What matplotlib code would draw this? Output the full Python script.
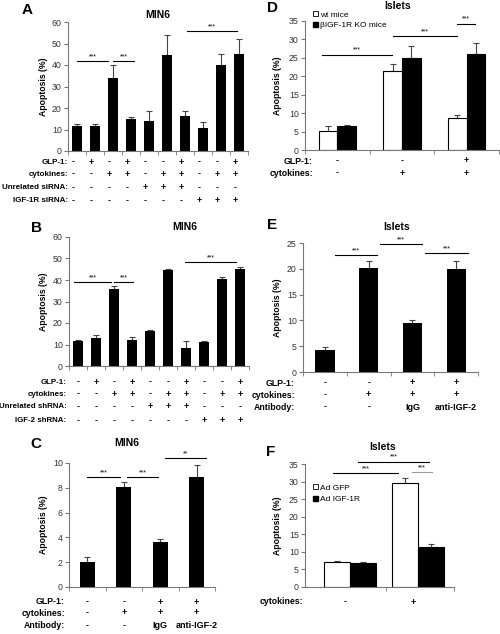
import numpy as np
import matplotlib
matplotlib.use('Agg')
import matplotlib.pyplot as plt
from matplotlib.patches import Patch
from matplotlib.transforms import blended_transform_factory

plt.rcParams['font.family'] = ['Liberation Sans', 'DejaVu Sans']

W, H = 500, 634

# ---- data ----
a_vals = [11.5, 11.5, 34.1, 14.7, 14.0, 44.5, 16.3, 10.7, 39.8, 45.0]
a_err = [1.2, 1.2, 5.7, 0.9, 4.5, 9.4, 2.5, 2.8, 5.2, 7.0]
a_rows = ['GLP-1:', 'cytokines:', 'Unrelated siRNA:', 'IGF-1R siRNA:']
a_signs = [list('-+-+--+--+'), list('--++-++-++'), list('----+++---'), list('-------+++')]
a_sig = [(0, 1.74, 42, '***'), (2.0, 3.17, 42, '***'), (6.12, 8.9, 56, '***')]

b_vals = [11.4, 13.2, 35.9, 12.1, 16.3, 44.8, 8.2, 11.3, 40.6, 45.3]
b_err = [0.6, 1.2, 1.4, 1.6, 0.4, 0.3, 3.4, 0.3, 0.9, 0.6]
b_rows = ['GLP-1:', 'cytokines:', 'Unrelated shRNA:', 'IGF-2 shRNA:']
b_signs = a_signs
b_sig = [(-0.2, 1.85, 38.9, '***'), (2.0, 3.07, 38.9, '***'), (5.95, 8.8, 48.4, '***')]

c_vals = [2.0, 8.1, 3.65, 8.86]
c_err = [0.45, 0.4, 0.25, 1.0]
c_rows = ['GLP-1:', 'cytokines:', 'Antibody:']
c_signs = [['-', '-', '+', '+'], ['-', '+', '+', '+'], ['-', '-', 'IgG', 'anti-IGF-2']]
c_sig = [(0, 0.9, 8.9, '***'), (1.1, 1.95, 8.9, '***'), (2.13, 3.26, 10.4, '**')]

d_wt = [5.2, 21.3, 8.7]
d_wt_err = [1.4, 2.0, 0.7]
d_ko = [6.6, 25.0, 26.1]
d_ko_err = [0.3, 3.3, 2.9]
d_rows = ['GLP-1:', 'cytokines:']
d_signs = [['-', '-', '+'], ['-', '+', '+']]
d_sig = [(-0.24, 0.84, 25.9, '***'), (0.86, 1.85, 31.0, '***'), (1.85, 2.13, 34.3, '***')]

e_vals = [4.2, 20.2, 9.45, 20.0]
e_err = [0.7, 1.3, 0.65, 1.5]
e_rows = c_rows
e_signs = c_signs
e_sig = [(0.22, 1.18, 22.6, '***'), (1.25, 2.23, 24.8, '***'), (2.28, 3.28, 23.0, '***')]

f_gfp = [7.2, 29.5]
f_gfp_err = [0.3, 1.4]
f_igf = [6.95, 11.4]
f_igf_err = [0.2, 0.9]
f_rows = ['cytokines:']
f_signs = [['-', '+']]
f_sig = [(-0.25, 0.71, 32.4, '***'), (0.12, 1.16, 35.7, '***'), (0.92, 1.2, 32.6, '***')]

AX_COL = '#777777'

fig = plt.figure(figsize=(W / 100, H / 100), dpi=100)


def fx(px):
    return px / W


def fy(py):
    return 1 - py / H


def make_axes(x0, y0, x1, y1, xlim, ymax, ystep, bounds, ylab_x):
    ax = fig.add_axes([fx(x0), fy(y1), fx(x1 - x0), (y1 - y0) / H])
    ax.set_xlim(*xlim)
    ax.set_ylim(0, ymax)
    ax.set_yticks(np.arange(0, ymax + 0.01, ystep))
    for s in ['top', 'right']:
        ax.spines[s].set_visible(False)
    for s in ['left', 'bottom']:
        ax.spines[s].set_color(AX_COL)
        ax.spines[s].set_linewidth(0.8)
    ax.set_xticks([])
    ax.set_xticks(bounds, minor=True)
    ax.tick_params(axis='x', which='minor', direction='out', length=3, color=AX_COL, labelbottom=False)
    ax.tick_params(axis='y', direction='out', length=3, color=AX_COL, labelsize=6.3, labelcolor='#333333', pad=1.5)
    ax.set_ylabel('Apoptosis (%)', fontsize=6.2, fontweight='bold')
    ax.yaxis.set_label_coords((ylab_x - x0) / (x1 - x0), 0.5)
    return ax


def errs(ax, x, v, e):
    ax.errorbar(x, v, yerr=[np.zeros(len(e)), e], fmt='none', ecolor='#444444',
                elinewidth=0.8, capsize=2, capthick=0.8, zorder=1)


def sig_lines(ax, sig, gray_last=False):
    for i, (x0, x1, y, lab) in enumerate(sig):
        col = '#999999' if gray_last and i == len(sig) - 1 else 'black'
        ax.plot([x0, x1], [y, y], color=col, lw=0.8, clip_on=False)
        ax.annotate(lab, ((x0 + x1) / 2, y), xytext=(0, 0.5), textcoords='offset points',
                    ha='center', va='bottom', fontsize=5, annotation_clip=False)


def table(ax, rows, signs, ys, label_x, xs, size=6.3):
    tr = blended_transform_factory(ax.transData, fig.transFigure)
    for name, row, y in zip(rows, signs, ys):
        fig.text(fx(label_x), fy(y), name, ha='right', va='center', fontsize=size, fontweight='bold')
        for x, s in zip(xs, row):
            ax.text(x, fy(y), s, transform=tr, ha='center', va='center', fontsize=6.5, fontweight='bold')


def heading(letter, lx, ly, title, tx, ty):
    fig.text(fx(lx), fy(ly), letter, ha='center', va='center', fontsize=11, fontweight='bold')
    fig.text(fx(tx), fy(ty), title, ha='center', va='center', fontsize=7.5, fontweight='bold')


def legend(labels, x, y, spacing):
    handles = [Patch(facecolor='white', edgecolor='black', lw=0.6), Patch(facecolor='black', edgecolor='black')]
    fig.legend(handles, labels, loc='upper left', bbox_to_anchor=(fx(x), fy(y)),
               frameon=False, fontsize=6, handlelength=0.6, handleheight=0.6, handletextpad=0.3,
               labelspacing=spacing, borderpad=0, borderaxespad=0)


# ---- A ----
x10 = np.arange(10)
axA = make_axes(68, 22, 248, 151, (-0.5, 9.5), 60, 10, np.arange(-0.5, 10), 48)
axA.bar(x10, a_vals, width=0.58, color='black', zorder=2)
errs(axA, x10, a_vals, a_err)
sig_lines(axA, a_sig)
table(axA, a_rows, a_signs, [162, 174, 188, 201], 68, x10 - 0.2, size=5.8)
heading('A', 27, 10, 'MIN6', 158, 15)

# ---- B ----
axB = make_axes(69, 237, 249, 366, (-0.5, 9.5), 60, 10, np.arange(-0.5, 10), 48)
axB.bar(x10, b_vals, width=0.58, color='black', zorder=2)
errs(axB, x10, b_vals, b_err)
sig_lines(axB, b_sig)
table(axB, b_rows, b_signs, [382, 394, 407, 421], 66.5, x10, size=5.7)
heading('B', 37, 228, 'MIN6', 185, 227)

# ---- C ----
x4 = np.arange(4)
axC = make_axes(69, 463, 215, 587, (-0.5, 3.5), 10, 2, np.arange(-0.5, 4), 48)
axC.bar(x4, c_vals, width=0.42, color='black', zorder=2)
errs(axC, x4, c_vals, c_err)
sig_lines(axC, c_sig)
table(axC, c_rows, c_signs, [602, 613, 626], 65, x4)
heading('C', 36, 444, 'MIN6', 127, 443)

# ---- D ----
x3 = np.arange(3)
axD = make_axes(305, 21, 499, 150, (-0.5, 2.5), 35, 5, np.arange(-0.5, 3), 282)
axD.bar(x3 - 0.145, d_wt, width=0.29, color='white', edgecolor='black', lw=0.8, zorder=2)
axD.bar(x3 + 0.145, d_ko, width=0.29, color='black', edgecolor='black', lw=0.8, zorder=2)
errs(axD, x3 - 0.145, d_wt, d_wt_err)
errs(axD, x3 + 0.145, d_ko, d_ko_err)
sig_lines(axD, d_sig)
table(axD, d_rows, d_signs, [161, 173], 313, x3)
heading('D', 272, 8, 'Islets', 398, 6)
legend(['wt mice', 'βIGF-1R KO mice'], 313, 11, 0.35)

# ---- E ----
axE = make_axes(303, 243, 478, 372, (-0.5, 3.5), 25, 5, np.arange(-0.5, 4), 282)
axE.bar(x4, e_vals, width=0.44, color='black', zorder=2)
errs(axE, x4, e_vals, e_err)
sig_lines(axE, e_sig)
table(axE, e_rows, e_signs, [383, 395, 407], 295, x4)
heading('E', 272, 225, 'Islets', 397, 227)

# ---- F ----
x2 = np.arange(2)
axF = make_axes(305, 464, 454, 587, (-0.66, 1.53), 35, 5, [0.53, 1.53], 282)
axF.bar(x2 - 0.19, f_gfp, width=0.38, color='white', edgecolor='black', lw=0.8, zorder=2)
axF.bar(x2 + 0.19, f_igf, width=0.38, color='black', edgecolor='black', lw=0.8, zorder=2)
errs(axF, x2 - 0.19, f_gfp, f_gfp_err)
errs(axF, x2 + 0.19, f_igf, f_igf_err)
sig_lines(axF, f_sig, gray_last=True)
table(axF, f_rows, f_signs, [602], 303, x2 - 0.07)
heading('F', 271, 452, 'Islets', 383, 447)
legend(['Ad GFP', 'Ad IGF-1R'], 313, 484, 0.5)

fig.savefig('out.png', dpi=100)
